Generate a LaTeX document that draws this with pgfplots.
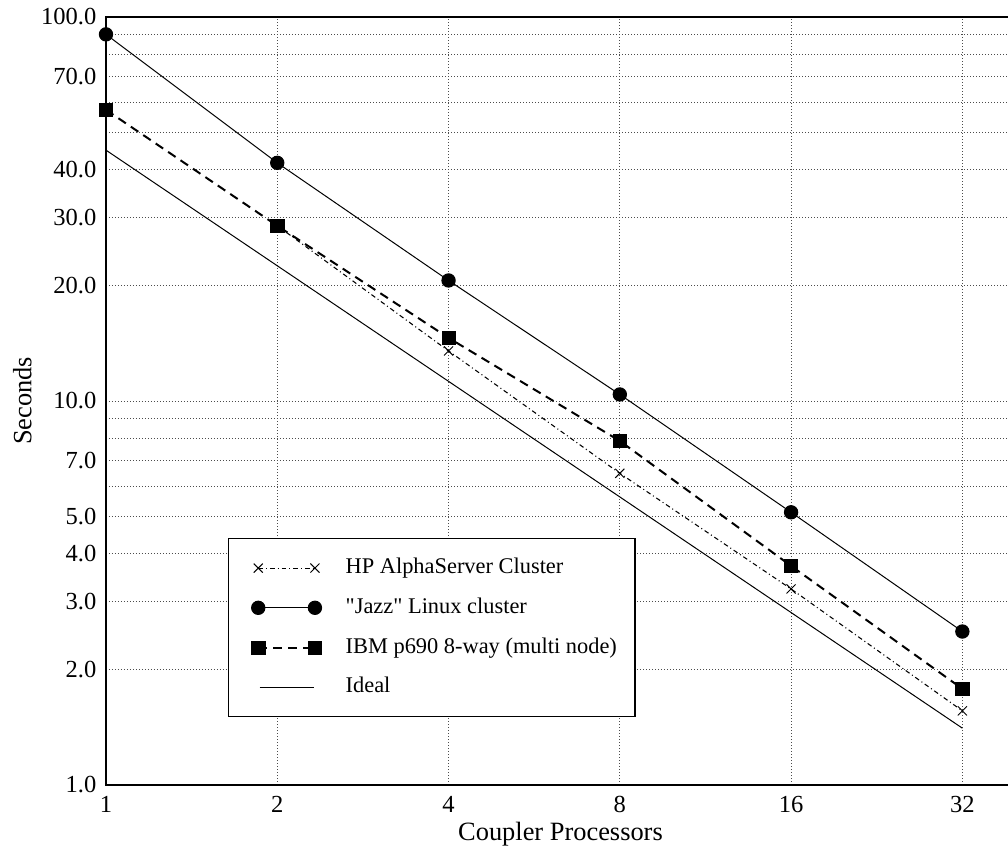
\documentclass[border=0pt]{standalone}
\usepackage{fontspec}
\setmainfont{Liberation Serif}
\usepackage{pgfplots}
\pgfplotsset{compat=1.18}
\pgfplotsset{
  twomark/.style={legend image code/.code={\path (-8pt,0pt) (47.5pt,0pt); \draw[##1] plot coordinates {(0pt,0pt) (42.5pt,0pt)};}},
  idealleg/.style={legend image code/.code={\path (-8pt,0pt) (47.5pt,0pt); \draw[##1] (1pt,0pt) -- (41.7pt,0pt);}},
}
\begin{document}
\begin{tikzpicture}
\begin{axis}[
  scale only axis, width=681.75pt, height=576pt,
  xmode=log, log basis x=2, ymode=log,
  xmin=1, xmax=39.6, ymin=1, ymax=100,
  xtick={1,2,4,8,16,32}, xticklabels={1,2,4,8,16,32},
  minor xtick={},
  ytick={1,2,3,4,5,7,10,20,30,40,70,100},
  yticklabels={1.0,2.0,3.0,4.0,5.0,7.0,10.0,20.0,30.0,40.0,70.0,100.0},
  minor ytick={6,8,9,50,60,80,90},
  grid=both,
  major grid style={black!70, line width=0.6pt, dash pattern=on 0.75pt off 1.5pt},
  minor grid style={black!70, line width=0.6pt, dash pattern=on 0.75pt off 1.5pt},
  major tick length=0pt, minor tick length=0pt,
  axis line style={line width=1.1pt},
  /pgf/number format/assume math mode=true,
  tick label style={font=\fontsize{18.4}{22}\selectfont},
  yticklabel style={anchor=east, inner sep=0pt, xshift=-7pt},
  xticklabel style={anchor=north, inner sep=0pt, yshift=-8.5pt},
  xlabel={Coupler Processors},
  ylabel={Seconds},
  label style={font=\fontsize{19.8}{23}\selectfont},
  xlabel style={at={(axis description cs:0.5,-0.048)}, anchor=north, inner sep=0pt},
  ylabel style={at={(axis description cs:-0.0814,0.5)}, anchor=south, inner sep=0pt},
  legend cell align=left,
  legend style={at={(0.1342,0.3216)}, anchor=north west, draw=black, line width=0.9pt,
    fill=white, inner xsep=13.5pt, inner ysep=13.7pt, row sep=13pt,
    nodes={inner sep=0pt, text height=12.5pt, text depth=4.3pt},
    /tikz/every odd column/.append style={column sep=17.3pt},
    font=\fontsize{16.8}{21}\selectfont},
]
\addplot[black, line width=0.8pt, dash pattern=on 3.5pt off 2.25pt on 0.75pt off 2.25pt,
  mark=x, mark size=4.8pt, mark options={solid, line width=0.75pt}, twomark]
  coordinates {(2,28.6) (4,13.5) (8,6.48) (16,3.24) (32,1.56)};
\addlegendentry{HP AlphaServer Cluster}
\addplot[black, line width=0.75pt, solid,
  mark=*, mark size=5pt, mark options={solid}, twomark]
  coordinates {(1,90.1) (2,41.7) (4,20.6) (8,10.4) (16,5.13) (32,2.51)};
\addlegendentry{{\addfontfeatures{Ligatures=TeXOff}"Jazz"} Linux cluster}
\addplot[black, line width=1.5pt, dash pattern=on 6.75pt off 4.5pt,
  mark=square*, mark size=5pt, mark options={solid, line width=0.5pt}, twomark]
  coordinates {(1,57.3) (2,28.6) (4,14.6) (8,7.87) (16,3.72) (32,1.78)};
\addlegendentry{IBM p690 8-way (multi node)}
\addplot[black, line width=0.75pt, solid, mark=none, idealleg]
  coordinates {(1,45.0) (2,22.5) (4,11.25) (8,5.625) (16,2.8125) (32,1.406)};
\addlegendentry{Ideal}
\end{axis}
\pgfresetboundingbox
\path[use as bounding box] (current axis.south west) ++(-79.5pt,-50.25pt) rectangle ++(756pt,639pt);
\end{tikzpicture}
\end{document}
